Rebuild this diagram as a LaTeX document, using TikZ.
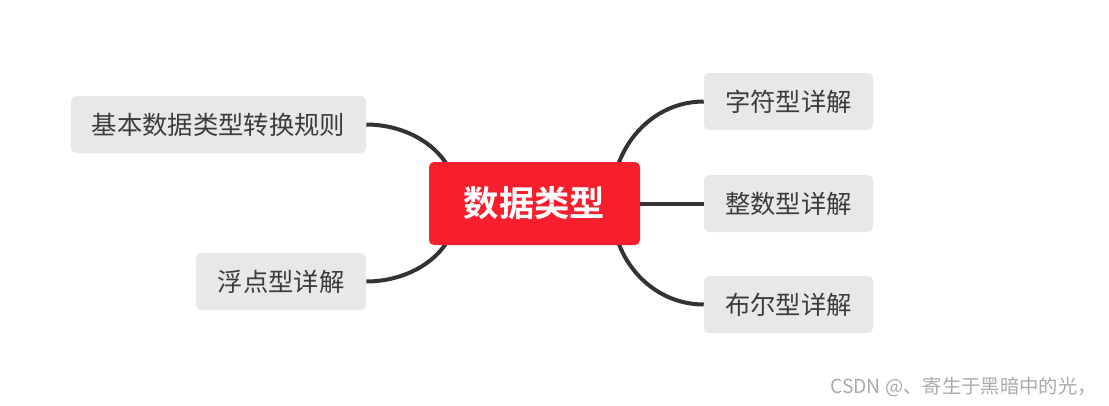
\documentclass[tikz,border=0pt]{standalone}
\usepackage{fontspec}
\usetikzlibrary{backgrounds}
\newfontfamily\cjk{Noto Sans CJK SC}[BoldFont={Noto Sans CJK SC Bold}]
\definecolor{rootred}{RGB}{247, 31, 45}
\definecolor{leafgray}{RGB}{232, 232, 232}
\definecolor{leaftext}{RGB}{60, 60, 60}
\definecolor{branch}{RGB}{51, 51, 51}
\definecolor{mark}{RGB}{170, 170, 170}

\tikzset{
    rootbox/.style={fill=rootred, rounded corners=3.75pt, minimum width=158.25pt, minimum height=62.25pt,
        text=white, font=\cjk\bfseries\fontsize{26.5}{30}\selectfont, inner sep=0pt},
    leafbox/.style={fill=leafgray, rounded corners=3.75pt, minimum height=42.75pt,
        text=leaftext, font=\cjk\fontsize{19}{22}\selectfont, inner sep=0pt},
    branchline/.style={draw=branch, line width=3pt}
}

\begin{document}
\begin{tikzpicture}[x=0.75pt, y=-0.75pt]
        \path[use as bounding box] (0,0) rectangle (1109,405);

        \node[rootbox] (root) at (534.5, 203.5) {数据类型};

        \node[leafbox, minimum width=126.75pt] (zifu)   at (788.5, 101.5) {字符型详解};
        \node[leafbox, minimum width=126.75pt] (zhengshu) at (788.5, 203.5) {整数型详解};
        \node[leafbox, minimum width=126.75pt] (buer)   at (788.5, 304.5) {布尔型详解};
        \node[leafbox, minimum width=221.25pt] (zhuanhuan) at (218.5, 124.5) {基本数据类型转换规则};
        \node[leafbox, minimum width=127.5pt]  (fudian) at (281, 281.5) {浮点型详解};

        \coordinate (rtop) at (612, 200);
        \coordinate (rbot) at (612, 207);
        \coordinate (ltop) at (457, 200);
        \coordinate (lbot) at (457, 207);

        \begin{scope}[on background layer]
            \draw[branchline] (rtop) to[out=90, in=180] (zifu.west);
            \draw[branchline] (root.east) -- (zhengshu.west);
            \draw[branchline] (rbot) to[out=-90, in=180] (buer.west);
            \draw[branchline] (ltop) to[out=90, in=0] (zhuanhuan.east);
            \draw[branchline] (lbot) to[out=-90, in=0] (fudian.east);
        \end{scope}

        \node[anchor=east, text=mark, font=\cjk\fontsize{14.5}{18}\selectfont, inner sep=0pt] (csdn) at (1097, 387) {CSDN @、寄生于黑暗中的光，};
    \end{tikzpicture}
\end{document}
